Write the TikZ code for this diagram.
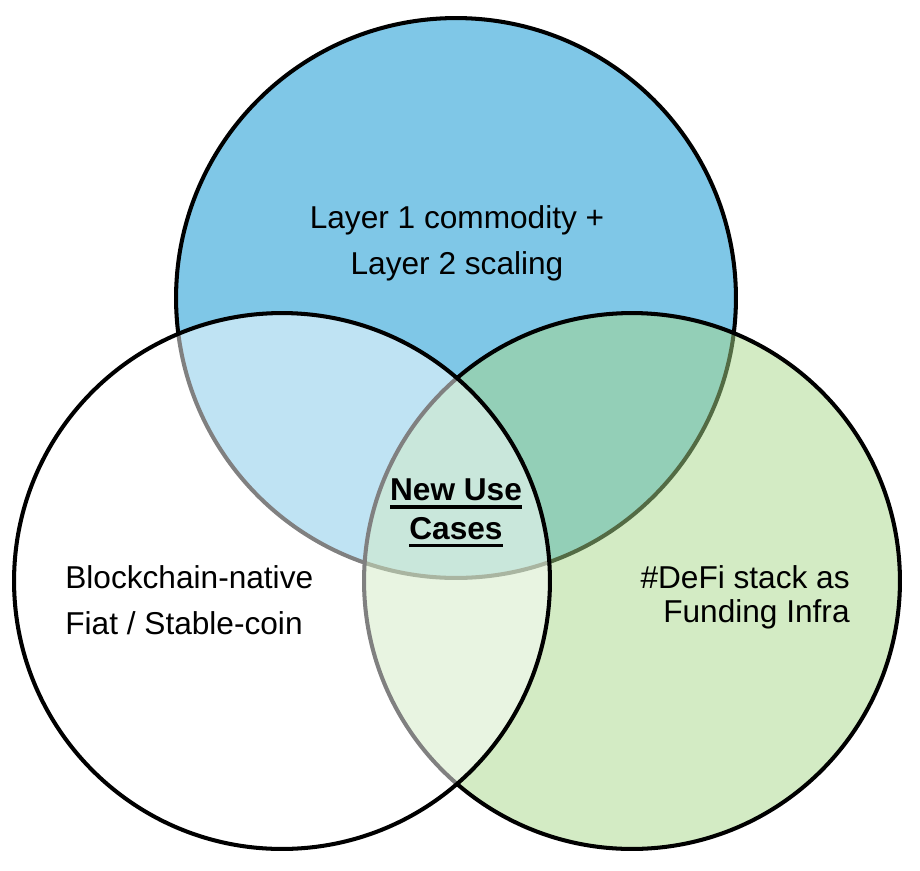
\documentclass[tikz,border=0pt]{standalone}
\usepackage{fontspec}
\setmainfont{Liberation Sans}
\usepackage{xcolor}
\usepackage{tikz}
\usetikzlibrary{positioning}
\definecolor{VennBlue}{RGB}{127,199,231}
\definecolor{VennGreen}{RGB}{167,215,137}
\newcommand{\ulbold}[1]{\setbox0\hbox{\bfseries #1}\leavevmode\rlap{\rule[-4.6pt]{\wd0}{1.8pt}}\box0}

\begin{document}
\begin{tikzpicture}[x=0.02cm, y=-0.02cm,
      venn/.style={circle, draw=black, line width=2.3pt, inner sep=0pt},
      lbl/.style={font=\fontsize{18}{26}\selectfont, inner sep=0pt}
    ]
    \useasboundingbox (0,0) rectangle (920,870);

    % Top circle
    \node[venn, fill=VennBlue, minimum size=11.2cm] (top) at (456,298) {};
    % Right circle
    \node[venn, fill=VennGreen, fill opacity=0.5, minimum size=10.72cm] (right) at (632,581) {};
    % Left circle
    \node[venn, fill=white, fill opacity=0.5, minimum size=10.72cm] (left) at (282,581) {};

    % Labels
    \node[lbl, align=center] (toptext) at (457,243)
          {Layer 1 commodity +\\Layer 2 scaling};
    \node[lbl, align=left, anchor=west] (lefttext) at (65,600)
          {Blockchain-native\\Fiat / Stable-coin};
    \node[lbl, align=right, anchor=east, font=\fontsize{18}{19.5}\selectfont] (righttext) at (850,597)
          {\#DeFi stack as\\Funding Infra};
    \node[lbl, align=center, font=\fontsize{18}{22}\selectfont] (centertext) at (456,513)
          {\ulbold{New Use}\\\ulbold{Cases}};
  \end{tikzpicture}
\end{document}
